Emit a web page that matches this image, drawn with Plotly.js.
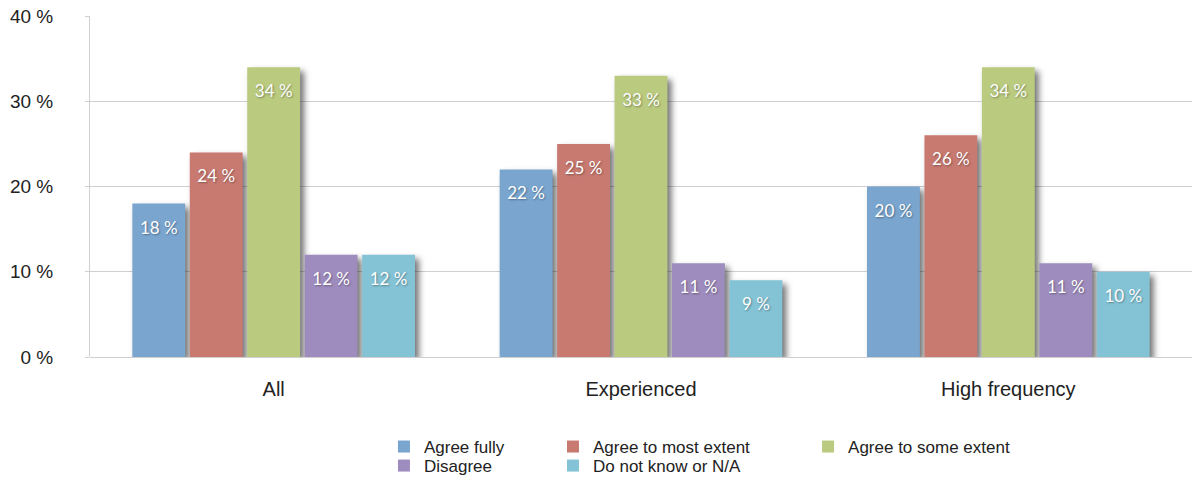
<!DOCTYPE html>
<html>
<head>
<meta charset="utf-8">
<script src="https://cdn.plot.ly/plotly-3.0.1.min.js"></script>
<style>
html,body{margin:0;padding:0;background:#fff;}
#chart{width:1192px;height:482px;}
#chart .barlayer .bars .point path{filter:drop-shadow(4px 4px 3px rgba(0,0,0,0.55));}
</style>
</head>
<body>
<div id="chart"></div>
<script>
var groups = ["All", "Experienced", "High frequency"];
var seriesNames = ["Agree fully", "Agree to most extent", "Agree to some extent", "Disagree", "Do not know or N/A"];
var agreeFully = [18, 22, 20];
var agreeMost = [24, 25, 26];
var agreeSome = [34, 33, 34];
var disagree = [12, 11, 11];
var doNotKnow = [12, 9, 10];
var yTickVals = [0, 10, 20, 30, 40];
var yTickText = ["0 %", "10 %", "20 %", "30 %", "40 %"];

var seriesValues = [agreeFully, agreeMost, agreeSome, disagree, doNotKnow];
var colors = ["#79a5cf", "#c87a71", "#bacb80", "#9e8cbe", "#83c3d5"];
var legendIds = ["legend", "legend2", "legend3", "legend4", "legend5"];

var traces = seriesValues.map(function (vals, i) {
  return {
    type: "bar",
    name: seriesNames[i],
    x: groups,
    y: vals,
    offsetgroup: "g" + i,
    marker: { color: colors[i] },
    hoverinfo: "skip",
    legend: legendIds[i]
  };
});

var labelTraces = seriesValues.map(function (vals, i) {
  return {
    type: "scatter",
    mode: "markers+text",
    x: groups,
    y: vals,
    offsetgroup: "g" + i,
    text: vals.map(function (v) { return v + " %"; }),
    textposition: "bottom center",
    textfont: { family: "Lato, 'Noto Sans', sans-serif", size: 17, color: "#ffffff", shadow: "1px 1px 2px rgba(0,0,0,0.35)" },
    marker: { size: 26, color: "rgba(0,0,0,0)" },
    cliponaxis: false,
    hoverinfo: "skip",
    showlegend: false
  };
});

var legendFont = { family: "'Liberation Sans', Arial, sans-serif", size: 17, color: "#222" };
function mkLegend(x, y) {
  return {
    orientation: "v",
    xref: "container", yref: "container",
    xanchor: "left", yanchor: "top",
    x: x, y: y,
    font: legendFont,
    bgcolor: "rgba(0,0,0,0)",
    itemwidth: 30
  };
}
var row1 = 0.110, row2 = 0.0705;
var col1 = 0.3221, col2 = 0.4639, col3 = 0.6779;

var layout = {
  width: 1192, height: 482,
  margin: { l: 90, r: 0, t: 16, b: 125, autoexpand: false },
  paper_bgcolor: "#ffffff",
  plot_bgcolor: "#ffffff",
  barmode: "group",
  bargap: 0.218,
  bargroupgap: 0.08,
  scattermode: "group",
  scattergap: 0.218,
  font: { family: "'Liberation Sans', Arial, sans-serif", size: 15, color: "#222" },
  xaxis: {
    type: "category",
    showgrid: false,
    zeroline: false,
    showline: false,
    ticks: "",
    tickangle: 0,
    automargin: false,
    tickfont: { size: 20, color: "#222" },
    ticklabelstandoff: 18
  },
  yaxis: {
    range: [0, 40],
    tickvals: yTickVals,
    ticktext: yTickText,
    automargin: false,
    showgrid: true,
    gridcolor: "#cfcfcf",
    gridwidth: 1,
    zeroline: true,
    zerolinecolor: "#cfcfcf",
    showline: true,
    linecolor: "#cfcfcf",
    ticks: "outside",
    ticklen: 4,
    tickcolor: "#cfcfcf",
    tickfont: { size: 19, color: "#222" },
    ticklabelstandoff: 28,
    fixedrange: true
  },
  legend: mkLegend(col1, row1),
  legend2: mkLegend(col2, row1),
  legend3: mkLegend(col3, row1),
  legend4: mkLegend(col1, row2),
  legend5: mkLegend(col2, row2),
  showlegend: true
};

Plotly.newPlot("chart", traces.concat(labelTraces), layout, { staticPlot: true, displayModeBar: false });
</script>
</body>
</html>
